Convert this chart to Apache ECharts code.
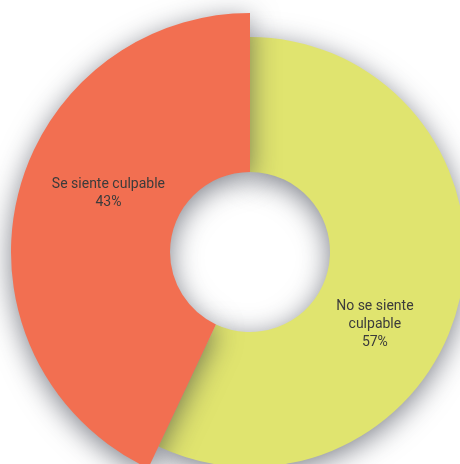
<!DOCTYPE html>
<html>
<head>
<meta charset="utf-8">
<script src="https://cdn.jsdelivr.net/npm/echarts@6/dist/echarts.min.js"></script>
<style>
  html, body { margin: 0; padding: 0; background: #ffffff; }
  #chart { width: 460px; height: 464px; }
</style>
</head>
<body>
<div id="chart"></div>
<script>
// Survey answer shares (percent)
const categories = ['No se siente\nculpable', 'Se siente culpable'];
const values = [57, 43];
const sliceColors = ['#E0E46F', '#F26F51'];

const FONT = '"Liberation Sans Narrow", "Arial Narrow", Roboto, sans-serif';

// One ring per slice so each slice can have its own outer radius;
// the other slice in each ring is left transparent.
function ring(idx, outer, dx, dy) {
  return {
    type: 'pie',
    center: [250, 252],
    radius: [80, outer],
    startAngle: 90,
    clockwise: true,
    silent: true,
    z: idx === 1 ? 3 : 2,
    labelLine: { show: false },
    labelLayout: { dx: dx, dy: dy },
    data: categories.map((name, i) => ({
      name: name,
      value: values[i],
      itemStyle: i === idx
        ? {
            color: sliceColors[i],
            shadowBlur: 28,
            shadowColor: 'rgba(40, 45, 60, 0.6)',
            shadowOffsetX: 0,
            shadowOffsetY: 6
          }
        : { color: 'rgba(0,0,0,0)' },
      label: {
        show: i === idx,
        position: 'inside',
        formatter: p => p.name + '\n' + p.value + '%',
        fontFamily: FONT,
        fontSize: 14,
        lineHeight: 18,
        color: '#3b3b3b'
      }
    }))
  };
}

const chart = echarts.init(document.getElementById('chart'), null, { renderer: 'canvas' });
chart.setOption({
  animation: false,
  backgroundColor: '#ffffff',
  series: [
    ring(0, 215, -22, 40),
    ring(1, 239, 17, -23)
  ]
});
</script>
</body>
</html>
